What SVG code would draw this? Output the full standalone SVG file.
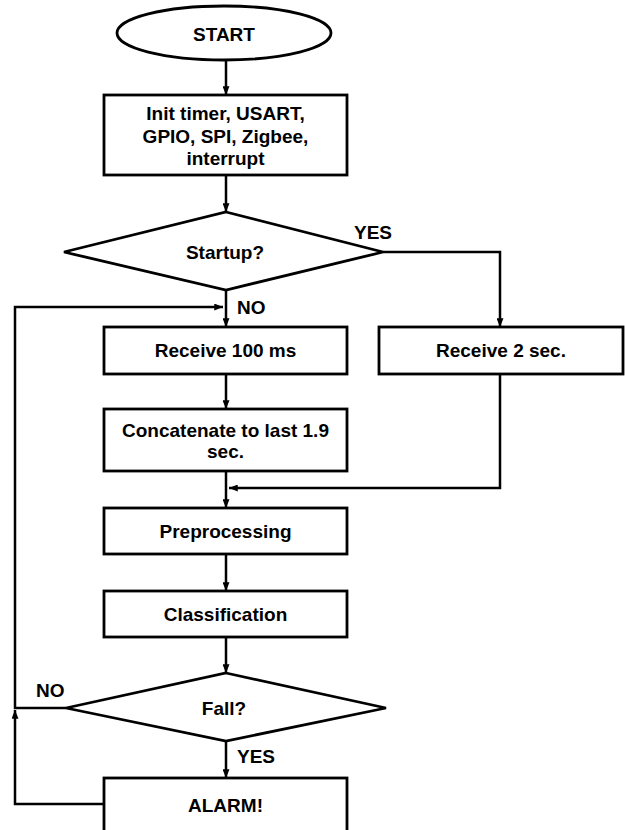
<svg xmlns="http://www.w3.org/2000/svg" width="625" height="830" viewBox="0 0 625 830">
<style>
.shape{fill:#fff;stroke:#000;stroke-width:2.8}
.conn{fill:none;stroke:#000;stroke-width:2.5}
.t{font-family:"Liberation Sans",Arial,Helvetica,sans-serif;font-weight:bold;font-size:19px;fill:#000;text-anchor:middle}
.lbl{font-family:"Liberation Sans",Arial,Helvetica,sans-serif;font-weight:bold;font-size:19px;fill:#000}
</style>
<defs>
<marker id="ah" viewBox="0 0 10 8" markerWidth="9" markerHeight="7" refX="10" refY="4" orient="auto" markerUnits="userSpaceOnUse">
<path d="M0,0 L10,4 L0,8 z" fill="#000"/>
</marker>
</defs>
<rect width="625" height="830" fill="#fff"/>
<g id="connectors">
<path class="conn" d="M226,60 L226,95" marker-end="url(#ah)"/>
<path class="conn" d="M226,175 L226,212" marker-end="url(#ah)"/>
<path class="conn" d="M383,252 L500,252 L500,327" marker-end="url(#ah)"/>
<path class="conn" d="M226,290 L226,327" marker-end="url(#ah)"/>
<path class="conn" d="M226,374 L226,409" marker-end="url(#ah)"/>
<path class="conn" d="M226,471 L226,508" marker-end="url(#ah)"/>
<path class="conn" d="M500,374 L500,488 L229,488" marker-end="url(#ah)"/>
<path class="conn" d="M226,554 L226,591" marker-end="url(#ah)"/>
<path class="conn" d="M226,637 L226,673" marker-end="url(#ah)"/>
<path class="conn" d="M226,741 L226,778" marker-end="url(#ah)"/>
<path class="conn" d="M66,708 L15,708 L15,307 L223,307" marker-end="url(#ah)"/>
<path class="conn" d="M104,804 L15,804 L15,710" marker-end="url(#ah)"/>
<text class="lbl" x="354" y="239">YES</text>
<text class="lbl" x="237" y="314">NO</text>
<text class="lbl" x="36" y="697">NO</text>
<text class="lbl" x="237" y="763">YES</text>
</g>
<g id="start">
<ellipse class="shape" cx="224" cy="33" rx="107" ry="27"/>
<text class="t" x="224" y="40.5">START</text>
</g>
<g id="init">
<rect class="shape" x="104" y="95" width="243" height="80"/>
<text class="t" x="225.5" y="120">Init timer, USART,</text>
<text class="t" x="225.5" y="143">GPIO, SPI, Zigbee,</text>
<text class="t" x="225.5" y="165">interrupt</text>
</g>
<g id="startup">
<polygon class="shape" points="226,212 383,252 226,290 64,252"/>
<text class="t" x="225" y="259">Startup?</text>
</g>
<g id="receive100">
<rect class="shape" x="104" y="327" width="243" height="47"/>
<text class="t" x="225.5" y="357">Receive 100 ms</text>
</g>
<g id="receive2">
<rect class="shape" x="379" y="327" width="244" height="47"/>
<text class="t" x="501" y="357">Receive 2 sec.</text>
</g>
<g id="concatenate">
<rect class="shape" x="104" y="409" width="243" height="62"/>
<text class="t" x="225.5" y="436.5">Concatenate to last 1.9</text>
<text class="t" x="225.5" y="458">sec.</text>
</g>
<g id="preprocessing">
<rect class="shape" x="104" y="508" width="243" height="46"/>
<text class="t" x="225.5" y="538">Preprocessing</text>
</g>
<g id="classification">
<rect class="shape" x="104" y="591" width="243" height="46"/>
<text class="t" x="225.5" y="620.5">Classification</text>
</g>
<g id="fall">
<polygon class="shape" points="226,673 386,708 226,741 66,708"/>
<text class="t" x="224" y="715">Fall?</text>
</g>
<g id="alarm">
<rect class="shape" x="104" y="778" width="243" height="60"/>
<text class="t" x="225.5" y="811.5">ALARM!</text>
</g>
</svg>
